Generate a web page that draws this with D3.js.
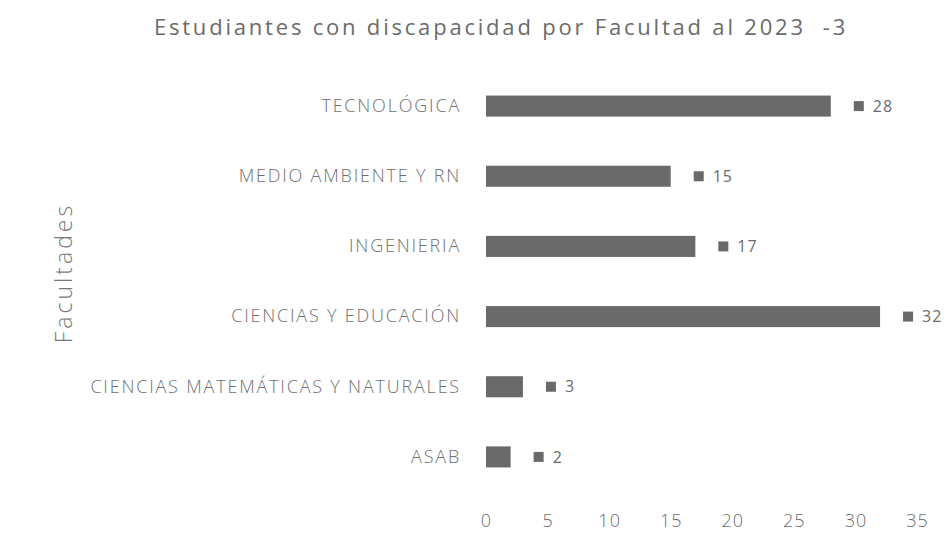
<!DOCTYPE html>
<html>
<head>
<meta charset="utf-8">
<script src="https://cdn.jsdelivr.net/npm/d3@7"></script>
<style>
  html, body { margin: 0; padding: 0; background: #ffffff; }
  svg { display: block; font-family: "Open Sans", "Noto Sans", sans-serif; }
  text { white-space: pre; }
</style>
</head>
<body>
<svg id="chart" width="951" height="552"></svg>
<script>
// Faculties, top to bottom
const facultades = [
  "TECNOLÓGICA",
  "MEDIO AMBIENTE Y RN",
  "INGENIERIA",
  "CIENCIAS Y EDUCACIÓN",
  "CIENCIAS MATEMÁTICAS Y NATURALES",
  "ASAB"
];
// Students with disabilities per faculty
const estudiantes = [28, 15, 17, 32, 3, 2];
// Value axis ticks
const xTicks = [0, 5, 10, 15, 20, 25, 30, 35];

const titulo = "Estudiantes con discapacidad por Facultad al 2023  -3";
const ejeY = "Facultades";

const svg = d3.select("#chart");
const W = 951, H = 552;
const margin = { top: 71, right: 34, bottom: 60, left: 486 };

const textColor = "#6b6b6b";
const barColor = "#6a6a6a";

const x = d3.scaleLinear()
  .domain([0, 35])
  .range([margin.left, W - margin.right]);

const y = d3.scaleBand()
  .domain(facultades)
  .range([margin.top, H - margin.bottom])
  .paddingInner(0.7)
  .paddingOuter(0.35);

// Title
svg.append("text")
  .attr("x", 501)
  .attr("y", 35)
  .attr("text-anchor", "middle")
  .attr("fill", textColor)
  .attr("font-size", 22)
  .attr("letter-spacing", 2.8)
  .text(titulo);

// Category axis title
svg.append("text")
  .attr("transform", `translate(72,${273}) rotate(-90)`)
  .attr("text-anchor", "middle")
  .attr("fill", "#7a7a7a")
  .attr("font-size", 23)
  .attr("font-weight", 300)
  .attr("letter-spacing", 3)
  .text(ejeY);

// Category labels
const yAxis = svg.append("g")
  .attr("transform", `translate(${margin.left - 25},0)`)
  .call(d3.axisLeft(y).tickSize(0).tickPadding(0));
yAxis.select(".domain").remove();
yAxis.selectAll("text")
  .attr("fill", "#707070")
  .attr("font-size", 18)
  .attr("font-weight", 300)
  .attr("font-family", "\"Open Sans\", sans-serif")
  .attr("letter-spacing", 1.8);

// Value axis labels
const xAxis = svg.append("g")
  .attr("transform", `translate(0,${H - 38})`)
  .call(d3.axisBottom(x).tickValues(xTicks).tickSize(0).tickPadding(0));
xAxis.select(".domain").remove();
xAxis.selectAll("text")
  .attr("fill", textColor)
  .attr("font-size", 18)
  .attr("font-weight", 300)
  .attr("letter-spacing", 1)
  .attr("font-family", "\"Open Sans\", sans-serif");

// Bars
const rows = facultades.map((f, i) => ({ f, v: estudiantes[i] }));

svg.append("g")
  .selectAll("rect")
  .data(rows)
  .join("rect")
  .attr("x", x(0))
  .attr("y", d => y(d.f))
  .attr("width", d => x(d.v) - x(0))
  .attr("height", y.bandwidth())
  .attr("fill", barColor);

// Data labels with legend key
const lbl = svg.append("g")
  .selectAll("g")
  .data(rows)
  .join("g")
  .attr("transform", d => `translate(${x(d.v)},${y(d.f) + y.bandwidth() / 2})`);

lbl.append("rect")
  .attr("x", 23)
  .attr("y", -5)
  .attr("width", 10)
  .attr("height", 10)
  .attr("fill", barColor);

lbl.append("text")
  .attr("x", 42)
  .attr("dy", "0.35em")
  .attr("fill", textColor)
  .attr("font-size", 16)
  .attr("letter-spacing", 1)
  .text(d => d.v);
</script>
</body>
</html>
